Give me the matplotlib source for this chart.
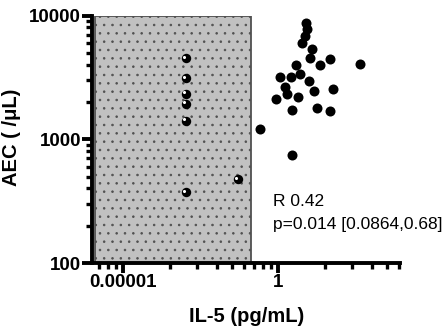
import matplotlib
matplotlib.use("Agg")
import matplotlib.pyplot as plt
from matplotlib.patches import Rectangle
from matplotlib.transforms import ScaledTranslation
from matplotlib.ticker import FixedLocator, FixedFormatter, NullFormatter

# Data (IL-5 on the axis' own scale, AEC per uL)
lod_x = [0.253, 0.253, 0.253, 0.253, 0.253, 0.55, 0.253]
lod_y = [4510, 3097, 2337, 1938, 1408, 474, 372]

il5 = [1.50, 1.54, 1.48, 1.43, 1.64, 1.61, 2.15, 1.85, 3.37, 1.31,
       1.03, 1.20, 1.38, 1.58, 1.11, 1.14, 1.69, 2.27, 0.97, 1.34,
       1.23, 1.77, 2.15, 0.76, 1.23]
aec = [8736, 7762, 6808, 6000, 5333, 4530, 4480, 3953, 4080, 4002,
       3214, 3214, 3381, 2943, 2630, 2323, 2472, 2551, 2116, 2180,
       1722, 1787, 1676, 1219, 745]

x_major = [0.1, 1]
x_major_labels = ["0.00001", "1"]
x_minor = [0.07, 0.08, 0.09, 0.2, 0.3, 0.4, 0.5, 0.6, 0.7, 0.8, 0.9, 2, 3, 4, 5, 6]
y_major = [100, 1000, 10000]
y_major_labels = ["100", "1000", "10000"]
y_minor = [200, 300, 400, 500, 600, 700, 800, 900,
           2000, 3000, 4000, 5000, 6000, 7000, 8000, 9000]

lod_limit = 0.668
stat_lines = ["R 0.42", "p=0.014 [0.0864,0.68]"]

plt.rcParams['font.family'] = ['Liberation Sans', 'DejaVu Sans']
plt.rcParams['hatch.color'] = '#acacac'
plt.rcParams['hatch.linewidth'] = 0.6

fig = plt.figure(figsize=(4.48, 3.30), dpi=100)
ax = fig.add_axes([92/448, 1-263/330, (400-92)/448, (263-15.5)/330])
ax.set_xscale('log')
ax.set_yscale('log')
ax.set_xlim(0.0629, 6.1)
ax.set_ylim(100, 10000)

rect = Rectangle((0.0657, 100), lod_limit - 0.0657, 10000 - 100,
                 facecolor='#c1c1c1', edgecolor='#505050', linewidth=1.3,
                 hatch='..', zorder=1)
ax.add_patch(rect)

ax.scatter(lod_x, lod_y, s=46, color='black', zorder=3, linewidths=0)
hl = ax.transData + ScaledTranslation(-2.2/100, 1.6/100, fig.dpi_scale_trans)
ax.scatter(lod_x, lod_y, s=5, color='white', zorder=4, linewidths=0, transform=hl)
ax.scatter(il5, aec, s=52, color='black', zorder=3, linewidths=0)

ax.text(0.928, 314, stat_lines[0], fontsize=12.5, va='center', ha='left')
ax.text(0.928, 204, stat_lines[1], fontsize=12.5, va='center', ha='left')

for s in ['top', 'right']:
    ax.spines[s].set_visible(False)
for s in ['left', 'bottom']:
    ax.spines[s].set_linewidth(2.8)

ax.xaxis.set_major_locator(FixedLocator(x_major))
ax.xaxis.set_major_formatter(FixedFormatter(x_major_labels))
ax.xaxis.set_minor_locator(FixedLocator(x_minor))
ax.xaxis.set_minor_formatter(NullFormatter())
ax.yaxis.set_major_locator(FixedLocator(y_major))
ax.yaxis.set_major_formatter(FixedFormatter(y_major_labels))
ax.yaxis.set_minor_locator(FixedLocator(y_minor))
ax.yaxis.set_minor_formatter(NullFormatter())

ax.tick_params(which='major', length=7, width=2.8, direction='out',
               labelsize=13.5, pad=1)
ax.tick_params(which='minor', length=4.5, width=2.4, direction='out')
for lab in ax.get_xticklabels() + ax.get_yticklabels():
    lab.set_fontweight('bold')

ax.set_xlabel("IL-5 (pg/mL)", fontsize=14.5, fontweight='bold')
ax.set_ylabel("AEC ( /μL)", fontsize=14.5, fontweight='bold')
ax.xaxis.label.set_va('center')
ax.yaxis.label.set_va('center')
ax.xaxis.set_label_coords(0.503, -0.218)
ax.yaxis.set_label_coords(-0.26, 0.509)

fig.savefig("out.png", dpi=100)
